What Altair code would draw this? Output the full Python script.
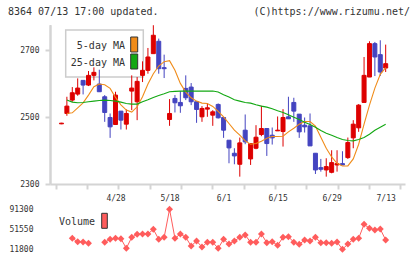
import altair as alt
import pandas as pd
import numpy as np

# ---------------- data ----------------
idx = list(range(-10, 51))
open_ = [2480, 2511, 2551, 2569, 2610, 2596, 2625, 2599, 2561, 2499,
         2478, 2518, 2479, 2578, 2546, 2625, 2640, 2690, 2727, 2648,
         2493, 2556, 2544, 2586, 2590, 2546, 2501, 2524, 2506, 2538,
         2499, 2431, 2392, 2359, 2461, 2375, 2407, 2448, 2466, 2446,
         2459, 2457, 2501, 2544, 2509, 2476, 2474, 2392, 2349, 2342,
         2335, 2357, 2361, 2379, 2438, 2468, 2544, 2620, 2720, 2687,
         2647]
high = [2483, 2561, 2590, 2616, 2610, 2638, 2649, 2642, 2566, 2511,
        2576, 2518, 2523, 2625, 2620, 2667, 2707, 2775, 2735, 2687,
        2554, 2566, 2578, 2625, 2602, 2546, 2533, 2541, 2521, 2541,
        2499, 2431, 2407, 2439, 2508, 2421, 2476, 2534, 2466, 2469,
        2502, 2524, 2561, 2558, 2509, 2499, 2511, 2392, 2375, 2377,
        2401, 2401, 2398, 2439, 2491, 2539, 2680, 2727, 2725, 2730,
        2717]
low = [2479, 2504, 2546, 2564, 2568, 2593, 2610, 2576, 2486, 2438,
       2478, 2463, 2463, 2521, 2491, 2605, 2630, 2690, 2630, 2617,
       2474, 2514, 2513, 2551, 2536, 2483, 2486, 2501, 2474, 2496,
       2438, 2362, 2359, 2322, 2419, 2357, 2404, 2443, 2384, 2418,
       2459, 2412, 2495, 2486, 2438, 2454, 2414, 2330, 2337, 2322,
       2332, 2337, 2357, 2375, 2407, 2456, 2544, 2620, 2623, 2623,
       2635]
close = [2482, 2533, 2573, 2587, 2596, 2625, 2634, 2576, 2514, 2471,
         2566, 2491, 2511, 2587, 2607, 2640, 2680, 2745, 2645, 2645,
         2511, 2543, 2534, 2558, 2546, 2523, 2526, 2528, 2516, 2498,
         2461, 2408, 2384, 2423, 2426, 2421, 2440, 2466, 2421, 2438,
         2461, 2499, 2495, 2518, 2456, 2471, 2414, 2342, 2344, 2352,
         2364, 2361, 2357, 2424, 2479, 2536, 2625, 2720, 2680, 2635,
         2660]

ma_idx = list(range(-9, 51))
ma5 = [2511, 2513, 2528, 2543, 2566, 2591, 2599, 2597, 2586, 2559,
       2537, 2521, 2515, 2531, 2561, 2599, 2630, 2653, 2666, 2669,
       2640, 2601, 2575, 2558, 2548, 2542, 2541, 2532, 2517, 2501,
       2481, 2461, 2446, 2429, 2419, 2421, 2428, 2437, 2442, 2442,
       2443, 2456, 2467, 2479, 2487, 2487, 2473, 2440, 2407, 2381,
       2362, 2354, 2354, 2375, 2419, 2479, 2536, 2587, 2628, 2648]
ma25 = [2551, 2545, 2543, 2544, 2546, 2548, 2550, 2551, 2550, 2548,
        2545, 2541, 2539, 2539, 2546, 2552, 2559, 2565, 2570, 2576,
        2577, 2578, 2578, 2578, 2578, 2578, 2578, 2578, 2575, 2567,
        2560, 2552, 2548, 2544, 2542, 2537, 2533, 2530, 2525, 2519,
        2514, 2507, 2500, 2493, 2485, 2478, 2470, 2460, 2452, 2446,
        2439, 2433, 2430, 2429, 2433, 2439, 2449, 2461, 2470, 2479]

vol_idx = [-8, -7, -6, -5] + list(range(-2, 51))
vol = [33070, 26310, 25710, 23130,
       25120, 31080, 33070, 32270, 13190, 35050, 41020, 41610, 41610, 50950,
       31080, 35050, 90700, 33070, 41610, 35050, 17760, 27700, 15780, 25320,
       25120, 13190, 31080, 21740, 27700, 35050, 39630, 25120, 25120, 41610,
       24320, 26310, 19150, 35050, 36250, 25120, 21140, 29690, 27700, 35050,
       24320, 24320, 23130, 25710, 11200, 21740, 31080, 33070, 60890, 52940,
       49560, 51550, 29690]
vol_seg = ["a"] * 4 + ["b"] * 53

date_idx = [0, 10, 20, 30, 40, 50]
date_lbl = ["4/28", "5/18", "6/1", "6/15", "6/29", "7/13"]
price_ticks = [2300, 2500, 2700]
vol_ticks = [11800, 51550, 91300]

header_left = "8364 07/13 17:00 updated."
header_right = "(C)https://www.rizumu.net/"
leg5 = "5-day MA"
leg25 = "25-day MA"
leg_vol = "Volume"

# ---------------- frames ----------------
df = pd.DataFrame({"i": idx, "open": open_, "high": high, "low": low, "close": close})
df["dir"] = np.where(df["close"] >= df["open"], "up", "down")
madf = pd.DataFrame({"i": ma_idx, "ma5": ma5, "ma25": ma25})
vdf = pd.DataFrame({"i": vol_idx, "vol": vol, "seg": vol_seg})

RED = "#dd0000"
BLUE = "#4444c0"
ORANGE = "#f08c1a"
GREEN = "#13a813"
VOLC = "#ff5c5c"
AXC = "#d4d4d4"
TXT = "#333333"
MONO = "DejaVu Sans Mono"

xscale = alt.Scale(domain=[-11.2, 52.65], nice=False, zero=False)
tickvals = np.linspace(-11.07, 52.7, 12).tolist()
yscale = alt.Scale(domain=[2300, 2775.7], range=[184, 25], nice=False, zero=False)
vscale = alt.Scale(domain=[11800, 91300], range=[249, 209], nice=False, zero=False)

ax_x = alt.Axis(values=tickvals, orient="bottom", offset=-75, labels=False, title=None,
                domainColor=AXC, domainWidth=2, tickColor=AXC, tickWidth=2, tickSize=5, grid=False)
lab_expr = " : ".join(f"datum.value == {v} ? '{l}'" for v, l in zip(date_idx, date_lbl)) + " : ''"
ax_xl = alt.Axis(values=date_idx, orient="bottom", offset=-75, ticks=False, domain=False,
                 labelExpr=lab_expr, labelPadding=10, labelFont=MONO, labelFontSize=8,
                 labelColor=TXT, title=None, grid=False)
ax_y = alt.Axis(values=price_ticks, orient="left", title=None, format="d", domainColor=AXC, domainWidth=2,
                tickColor=AXC, tickWidth=2, tickSize=5, labelPadding=6, labelFont=MONO,
                labelFontSize=8, labelColor=TXT, grid=False)
ax_v = alt.Axis(values=vol_ticks, orient="left", title=None, format="d", domain=False, ticks=False,
                labelPadding=17, labelFont=MONO, labelFontSize=8, labelColor=TXT, grid=False)

cscale = alt.Scale(domain=["up", "down"], range=[RED, BLUE])

X = alt.X("i:Q", scale=xscale, axis=ax_x)
XL = alt.X("i:Q", scale=xscale, axis=ax_xl)

wicks = alt.Chart(df).mark_rule(strokeWidth=1).encode(
    x=X, y=alt.Y("low:Q", scale=yscale, axis=ax_y), y2="high:Q",
    color=alt.Color("dir:N", scale=cscale, legend=None))
bodies = alt.Chart(df).mark_bar(size=4, strokeWidth=1).encode(
    x=X, y=alt.Y("open:Q", scale=yscale, axis=ax_y), y2="close:Q",
    color=alt.Color("dir:N", scale=cscale, legend=None),
    stroke=alt.Stroke("dir:N", scale=cscale, legend=None))
l5 = alt.Chart(madf).mark_line(color=ORANGE, strokeWidth=1.1).encode(
    x=X, y=alt.Y("ma5:Q", scale=yscale, axis=ax_y))
l25 = alt.Chart(madf).mark_line(color=GREEN, strokeWidth=1.1).encode(
    x=X, y=alt.Y("ma25:Q", scale=yscale, axis=ax_y))
main = alt.layer(wicks, bodies, l5, l25)

vline = alt.Chart(vdf).mark_line(color=VOLC, strokeWidth=1).encode(
    x=XL, y=alt.Y("vol:Q", scale=vscale, axis=ax_v), detail="seg:N")
vpts = alt.Chart(vdf).mark_point(shape="diamond", filled=True, size=48, color=VOLC, opacity=1).encode(
    x=XL, y=alt.Y("vol:Q", scale=vscale, axis=ax_v))
volume = alt.layer(vline, vpts)

one = alt.Data(values=[{"a": 1}])
yline = alt.Chart(one).mark_rule(color=AXC, strokeWidth=2).encode(
    x=alt.value(0.5), y=alt.value(25), y2=alt.value(184))
hl = alt.Chart(one).mark_text(align="left", baseline="middle", font=MONO, fontSize=10, color=TXT).encode(
    x=alt.value(-42), y=alt.value(12), text=alt.value(header_left))
hr = alt.Chart(one).mark_text(align="right", baseline="middle", font=MONO, fontSize=10, color=TXT).encode(
    x=alt.value(360), y=alt.value(12), text=alt.value(header_right))
box = alt.Chart(one).mark_rect(fill="white", stroke="#cccccc", strokeWidth=1.5).encode(
    x=alt.value(15.7), x2=alt.value(93.3), y=alt.value(30), y2=alt.value(77))
t5 = alt.Chart(one).mark_text(align="right", baseline="middle", font=MONO, fontSize=10, color=TXT).encode(
    x=alt.value(75), y=alt.value(45.5), text=alt.value(leg5))
t25 = alt.Chart(one).mark_text(align="right", baseline="middle", font=MONO, fontSize=10, color=TXT).encode(
    x=alt.value(75), y=alt.value(62.5), text=alt.value(leg25))
s5 = alt.Chart(one).mark_rect(fill=ORANGE, stroke="#333333", strokeWidth=1).encode(
    x=alt.value(80.7), x2=alt.value(87.7), y=alt.value(37), y2=alt.value(52))
s25 = alt.Chart(one).mark_rect(fill=GREEN, stroke="#333333", strokeWidth=1).encode(
    x=alt.value(80.7), x2=alt.value(87.7), y=alt.value(54), y2=alt.value(69))
tv = alt.Chart(one).mark_text(align="right", baseline="middle", font=MONO, fontSize=10, color=TXT).encode(
    x=alt.value(45), y=alt.value(222), text=alt.value(leg_vol))
sv = alt.Chart(one).mark_rect(fill=VOLC, stroke="#333333", strokeWidth=1).encode(
    x=alt.value(51.7), x2=alt.value(57.3), y=alt.value(213.3), y2=alt.value(228.3))

chart = alt.layer(yline, hl, hr, box, t5, t25, s5, s25, main, volume, tv, sv).resolve_scale(
    y="independent").resolve_axis(x="independent", y="independent").properties(
    width=355, height=259,
    autosize=alt.AutoSizeParams(type="none"),
    padding={"left": 50, "top": 0, "right": 15, "bottom": 0},
    background="white",
).configure_view(stroke=None)

chart.save("out.html", embed_options={"renderer": "svg", "actions": False})
